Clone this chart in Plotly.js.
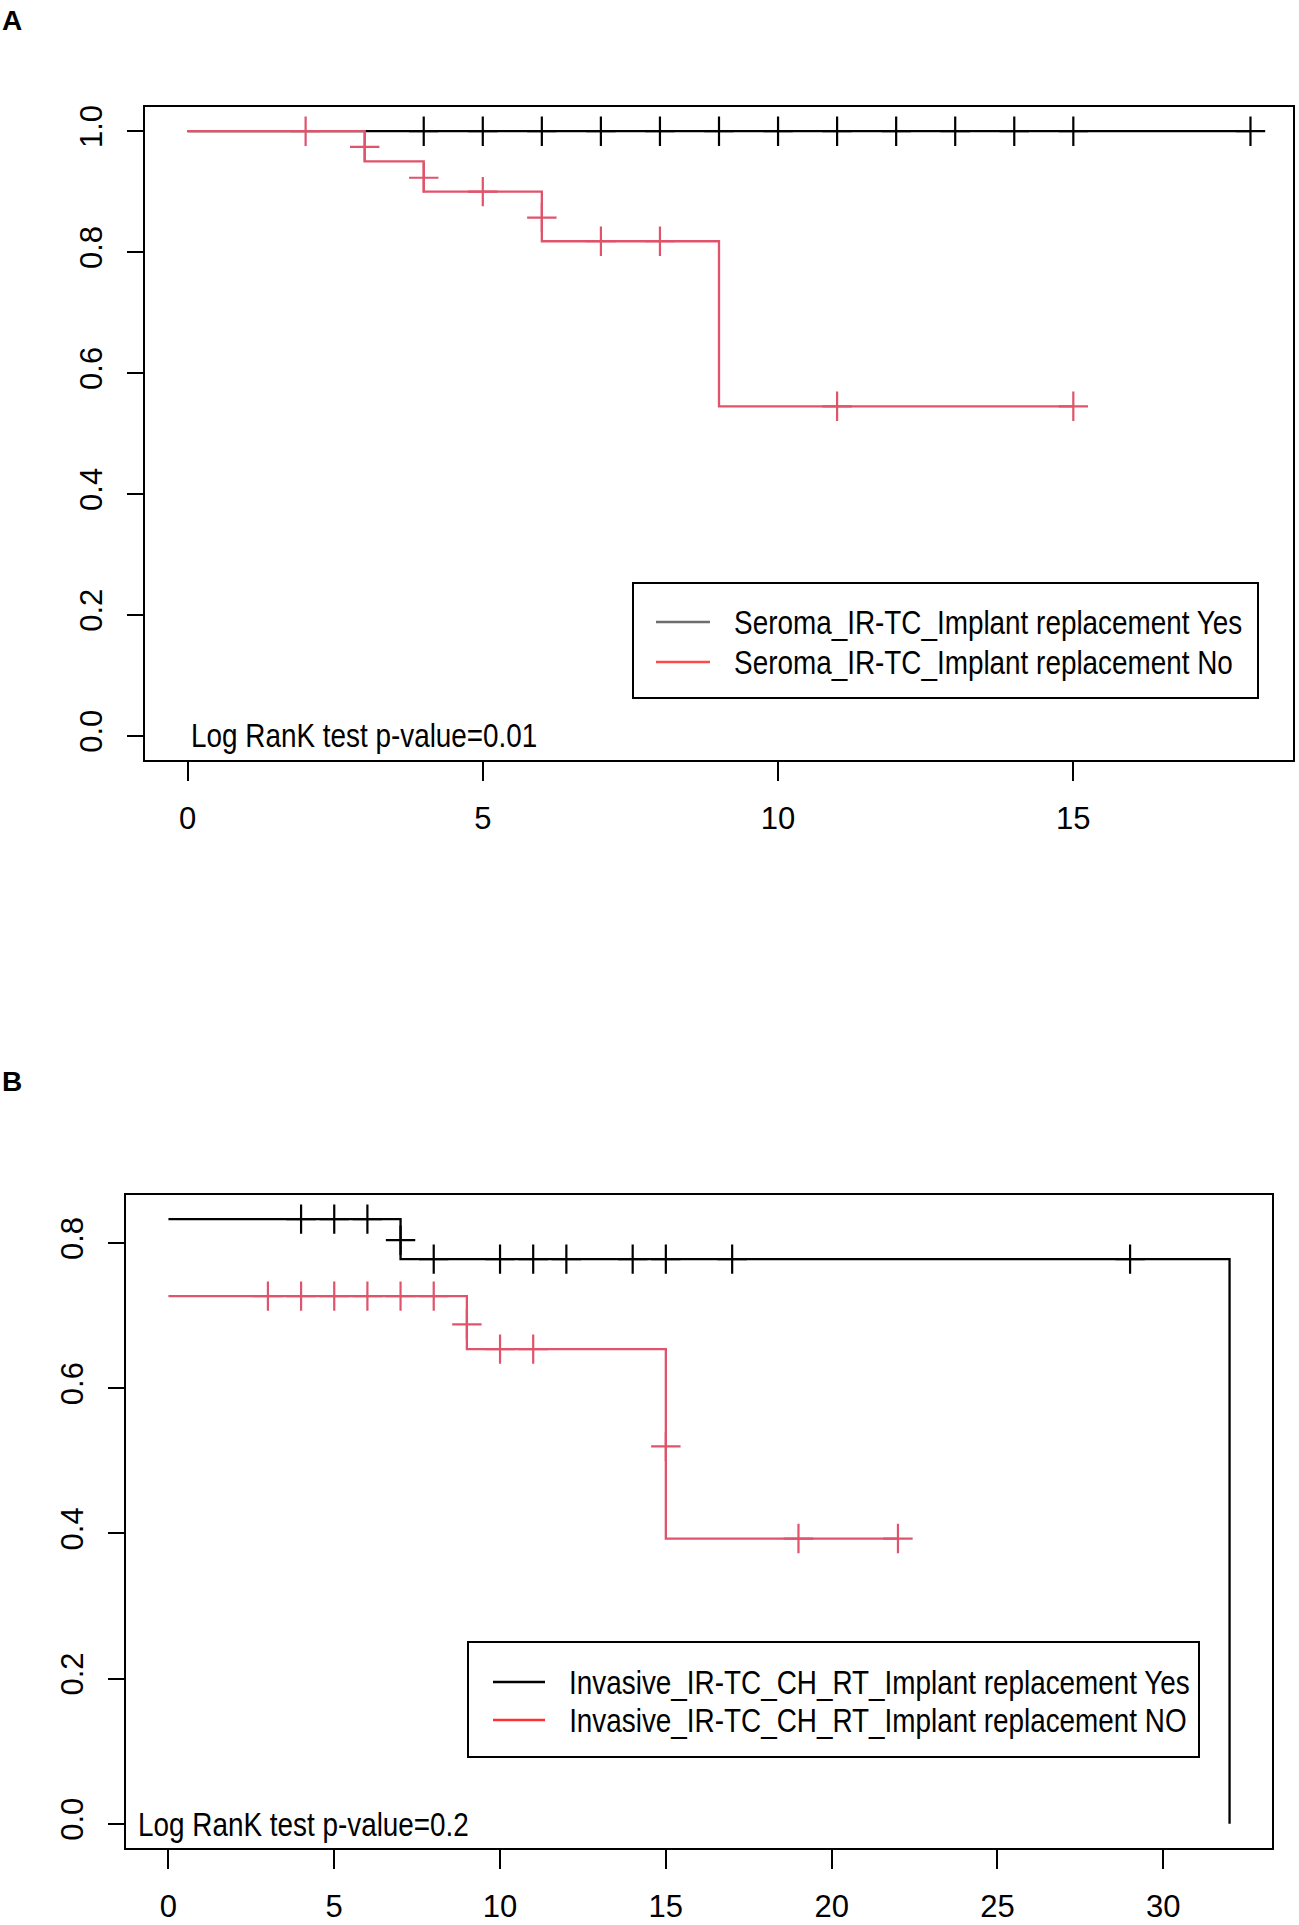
<!DOCTYPE html>
<html>
<head>
<meta charset="utf-8">
<script src="https://cdn.plot.ly/plotly-3.0.1.min.js"></script>
<style>
  html, body { margin: 0; padding: 0; background: #fff; }
  #chart { width: 1299px; height: 1925px; }
</style>
</head>
<body>
<div id="chart"></div>
<script>
"use strict";

// Panel A: seroma
const yesATime = [0, 18];
const yesASurv = [1, 1];
const yesACensTime = [4, 5, 6, 7, 8, 9, 10, 11, 12, 13, 14, 15, 18];
const yesACensSurv = [1, 1, 1, 1, 1, 1, 1, 1, 1, 1, 1, 1, 1];

const noATime = [0, 3, 4, 6, 9, 15];
const noASurv = [1, 0.95, 0.9, 0.818, 0.545, 0.545];
const noACensTime = [2, 3, 4, 5, 6, 7, 8, 11, 15];
const noACensSurv = [1, 0.974, 0.923, 0.9, 0.857, 0.818, 0.818, 0.545, 0.545];

// Panel B: invasive
const yesBTime = [0, 7, 32, 32];
const yesBSurv = [0.833, 0.778, 0.778, 0];
const yesBCensTime = [4, 5, 6, 7, 8, 10, 11, 12, 14, 15, 17, 29];
const yesBCensSurv = [0.833, 0.833, 0.833, 0.804, 0.778, 0.778, 0.778, 0.778, 0.778, 0.778, 0.778, 0.778];

const noBTime = [0, 9, 15, 22];
const noBSurv = [0.727, 0.654, 0.393, 0.393];
const noBCensTime = [3, 4, 5, 6, 7, 8, 9, 10, 11, 15, 19, 22];
const noBCensSurv = [0.727, 0.727, 0.727, 0.727, 0.727, 0.727, 0.688, 0.654, 0.654, 0.52, 0.393, 0.393];

const xTicksA = [0, 5, 10, 15];
const yTicksA = [0, 0.2, 0.4, 0.6, 0.8, 1.0];
const xTicksB = [0, 5, 10, 15, 20, 25, 30];
const yTicksB = [0, 0.2, 0.4, 0.6, 0.8];

const legendA = ['Seroma_IR-TC_Implant replacement Yes', 'Seroma_IR-TC_Implant replacement No'];
const legendB = ['Invasive_IR-TC_CH_RT_Implant replacement Yes', 'Invasive_IR-TC_CH_RT_Implant replacement NO'];
const pTextA = 'Log RanK test p-value=0.01';
const pTextB = 'Log RanK test p-value=0.2';

const W = 1299, H = 1925;
const RED = '#DF536B';
const SANS = '"Liberation Sans", Arial, sans-serif';
const NARROW_SCALE = 0.82;   // no Arial Narrow here, so squeeze the text afterwards

function px(x) { return x / W; }
function py(y) { return 1 - y / H; }

function stepTrace(x, y, color, xa, ya) {
  return {
    x: x, y: y, xaxis: xa, yaxis: ya,
    type: 'scatter', mode: 'lines',
    line: {shape: 'hv', color: color, width: 2.3},
    hoverinfo: 'skip', showlegend: false
  };
}

function censorTrace(x, y, color, xa, ya) {
  return {
    x: x, y: y, xaxis: xa, yaxis: ya,
    type: 'scatter', mode: 'markers',
    marker: {symbol: 'cross-thin', size: 21, color: color, line: {color: color, width: 2.2}},
    hoverinfo: 'skip', showlegend: false
  };
}

const data = [
  stepTrace(yesATime, yesASurv, '#000', 'x', 'y'),
  censorTrace(yesACensTime, yesACensSurv, '#000', 'x', 'y'),
  stepTrace(noATime, noASurv, RED, 'x', 'y'),
  censorTrace(noACensTime, noACensSurv, RED, 'x', 'y'),
  stepTrace(yesBTime, yesBSurv, '#000', 'x2', 'y2'),
  censorTrace(yesBCensTime, yesBCensSurv, '#000', 'x2', 'y2'),
  stepTrace(noBTime, noBSurv, RED, 'x2', 'y2'),
  censorTrace(noBCensTime, noBCensSurv, RED, 'x2', 'y2')
];

function xAxis(domain, range, ticks, anchor) {
  return {
    domain: domain, range: range, anchor: anchor,
    tickmode: 'array', tickvals: ticks, ticktext: ticks.map(String),
    ticks: 'outside', ticklen: 19, tickwidth: 2, tickcolor: '#000',
    ticklabelstandoff: 11,
    showline: true, mirror: true, linecolor: '#000', linewidth: 2,
    showgrid: false, zeroline: false, fixedrange: true,
    tickfont: {family: SANS, size: 31, color: '#000'}
  };
}

function yAxis(domain, range, ticks, anchor) {
  return {
    domain: domain, range: range, anchor: anchor,
    tickmode: 'array', tickvals: ticks, ticktext: ticks.map(v => v.toFixed(1)),
    ticks: 'outside', ticklen: 16, tickwidth: 2, tickcolor: '#000',
    tickangle: -90, ticklabelstandoff: 13,
    showline: true, mirror: true, linecolor: '#000', linewidth: 2,
    showgrid: false, zeroline: false, fixedrange: true,
    tickfont: {family: SANS, size: 31, color: '#000'}
  };
}

// hand-drawn legend boxes, as R's legend() does
function legendParts(box, lineX, rows, labels, colors, textX) {
  const shapes = [{
    type: 'rect', xref: 'paper', yref: 'paper',
    x0: px(box[0]), x1: px(box[2]), y0: py(box[3]), y1: py(box[1]),
    line: {color: '#000', width: 2}, fillcolor: 'rgba(0,0,0,0)'
  }];
  const annots = [];
  labels.forEach((lab, i) => {
    shapes.push({
      type: 'line', xref: 'paper', yref: 'paper',
      x0: px(lineX[0]), x1: px(lineX[1]), y0: py(rows[i]), y1: py(rows[i]),
      line: {color: colors[i], width: 2.5}
    });
    annots.push({
      xref: 'paper', yref: 'paper', x: px(textX), y: py(rows[i]),
      xanchor: 'left', yanchor: 'middle', showarrow: false, text: lab,
      font: {family: SANS, size: 34, color: '#000'}, narrow: true
    });
  });
  return {shapes: shapes, annots: annots};
}

const legA = legendParts([633, 583, 1258, 698], [656, 710], [622, 662], legendA, ['#6e6e6e', '#ff4a4a'], 732);
const legB = legendParts([468, 1642, 1199, 1757], [493, 545], [1682, 1720], legendB, ['#000', '#ff3030'], 567);

const annotations = [
  {xref: 'paper', yref: 'paper', x: 0, y: py(3), xanchor: 'left', yanchor: 'top', showarrow: false,
   text: '<b>A</b>', font: {family: SANS, size: 28, color: '#000'}},
  {xref: 'paper', yref: 'paper', x: 0, y: py(1064), xanchor: 'left', yanchor: 'top', showarrow: false,
   text: '<b>B</b>', font: {family: SANS, size: 28, color: '#000'}},
  {xref: 'paper', yref: 'paper', x: px(189), y: py(735), xanchor: 'left', yanchor: 'middle', showarrow: false,
   text: pTextA, font: {family: SANS, size: 34, color: '#000'}, narrow: true},
  {xref: 'paper', yref: 'paper', x: px(136), y: py(1824), xanchor: 'left', yanchor: 'middle', showarrow: false,
   text: pTextB, font: {family: SANS, size: 34, color: '#000'}, narrow: true}
].concat(legA.annots, legB.annots);

// which annotations get squeezed; strip the flag before plotting
const narrowIdx = annotations.map((a, i) => a.narrow ? i : -1).filter(i => i >= 0);
annotations.forEach(a => { delete a.narrow; });

const layout = {
  width: W, height: H,
  margin: {l: 0, r: 0, t: 0, b: 0},
  paper_bgcolor: '#fff', plot_bgcolor: '#fff',
  showlegend: false,
  xaxis: xAxis([px(145), px(1293)], [-0.72, 18.72], xTicksA, 'y'),
  yaxis: yAxis([py(760), py(107)], [-0.04, 1.04], yTicksA, 'x'),
  xaxis2: xAxis([px(126), px(1272)], [-1.28, 33.28], xTicksB, 'y2'),
  yaxis2: yAxis([py(1848), py(1195)], [-0.0333, 0.8663], yTicksB, 'x2'),
  shapes: legA.shapes.concat(legB.shapes),
  annotations: annotations
};

Plotly.newPlot('chart', data, layout, {staticPlot: true, displayModeBar: false}).then(gd => {
  gd.querySelectorAll('g.annotation').forEach(g => {
    const idx = parseInt(g.getAttribute('data-index'), 10);
    if (narrowIdx.indexOf(idx) < 0) return;
    const t = g.querySelector('text.annotation-text');
    if (!t) return;
    const bx = t.getBBox().x;
    t.setAttribute('transform', `translate(${bx},0) scale(${NARROW_SCALE},1) translate(${-bx},0)`);
  });
});
</script>
</body>
</html>
